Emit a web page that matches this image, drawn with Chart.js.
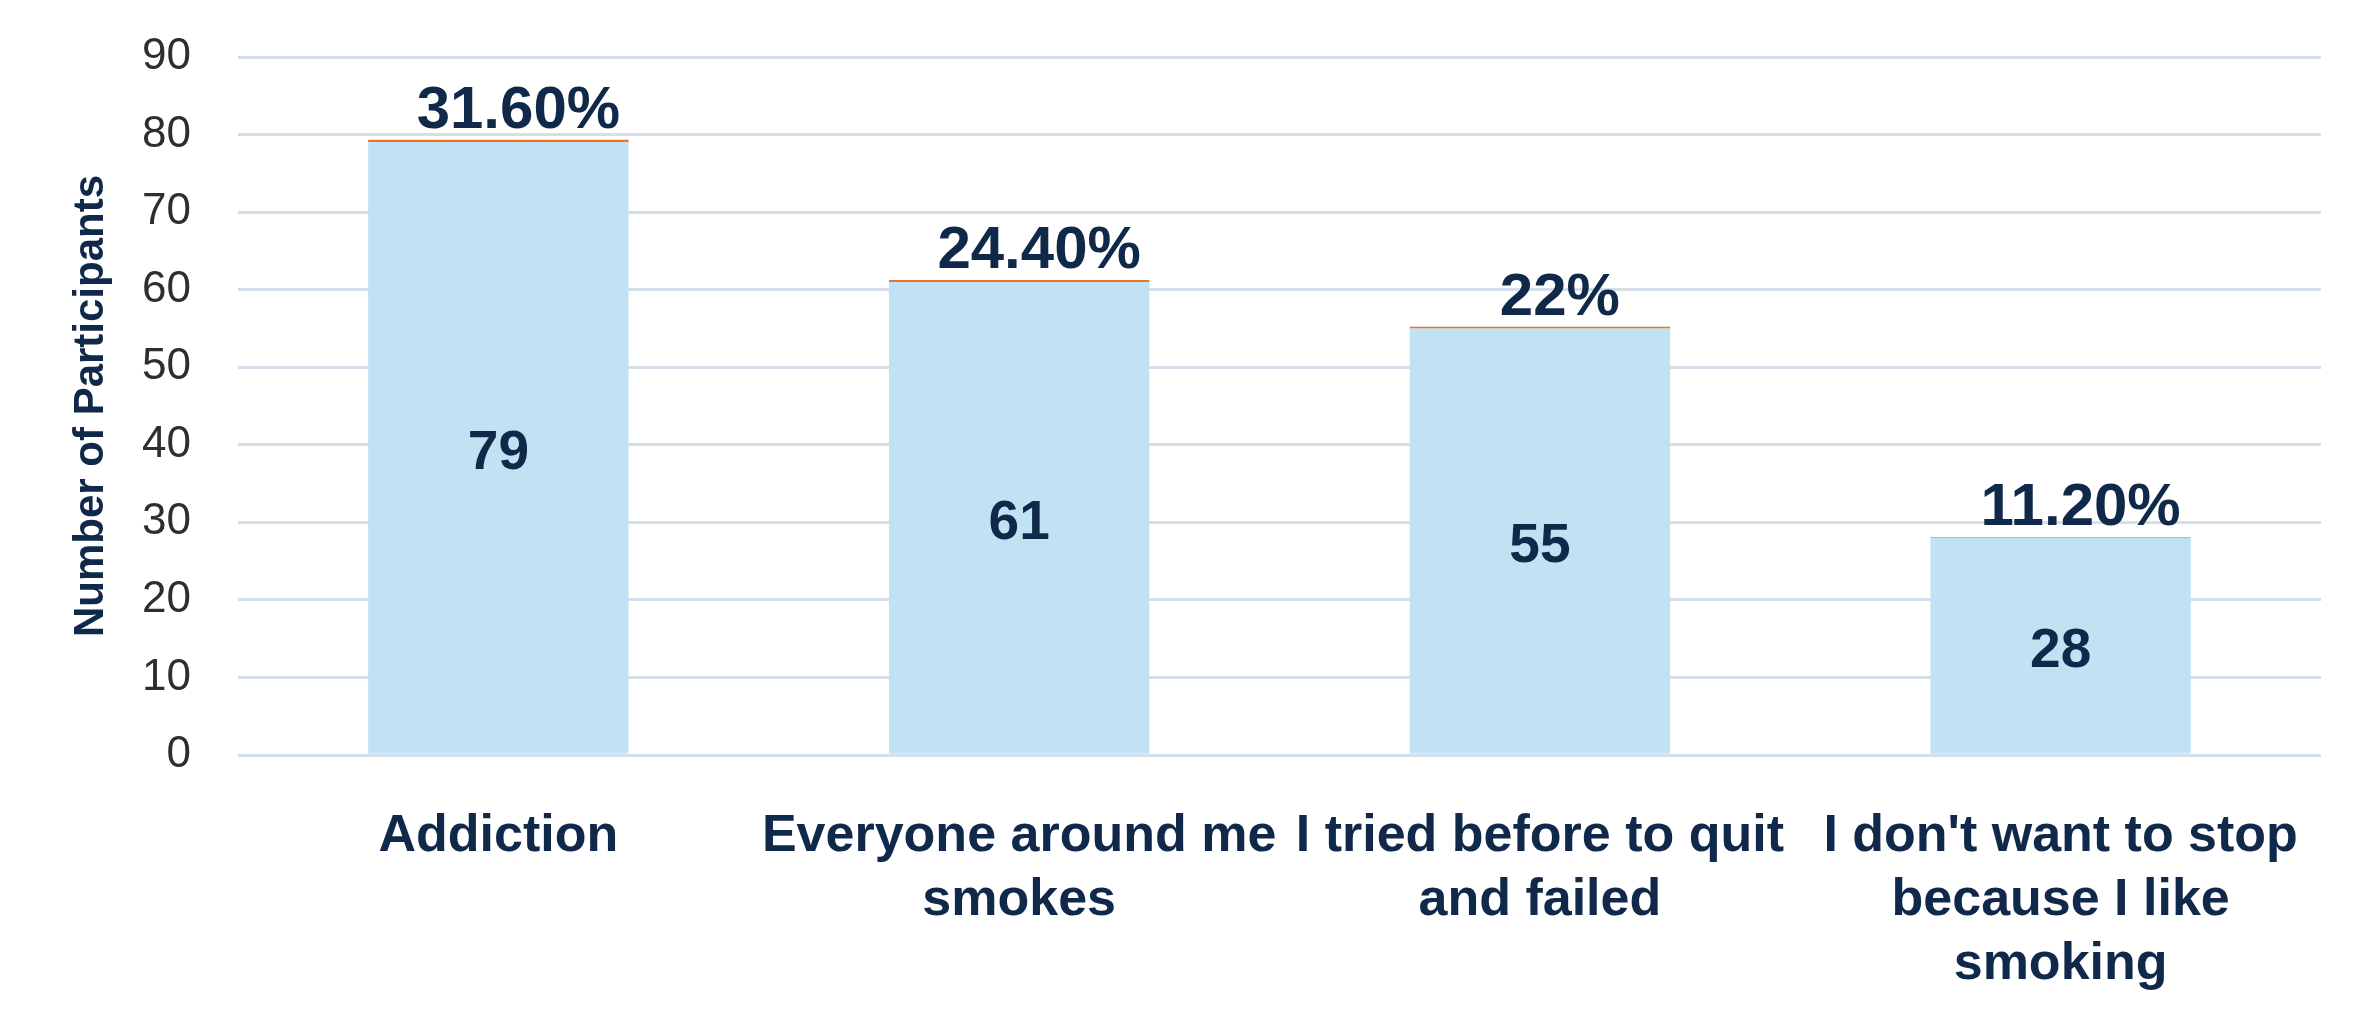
<!DOCTYPE html>
<html>
<head>
<meta charset="utf-8">
<script src="https://cdn.jsdelivr.net/npm/chart.js@4"></script>
<style>
  html, body { margin: 0; padding: 0; background: #ffffff; }
  #wrap { width: 2365px; height: 1010px; }
</style>
</head>
<body>
<div id="wrap"><canvas id="c" width="2365" height="1010"></canvas></div>
<script>
// ---- data ----
const categories = [
  ["Addiction"],
  ["Everyone around me", "smokes"],
  ["I tried before to quit", "and failed"],
  ["I don't want to stop", "because I like", "smoking"]
];
const counts = [79, 61, 55, 28];
const percents = [31.6, 24.4, 22, 11.2];
const percentLabels = ["31.60%", "24.40%", "22%", "11.20%"];
const yTicks = [0, 10, 20, 30, 40, 50, 60, 70, 80, 90];
const yTitle = "Number of Participants";

// ---- style ----
const FONT = "'Liberation Sans', Arial, sans-serif";
const NAVY = "#10284A";

const labelPlugin = {
  id: 'barLabels',
  afterDatasetsDraw(chart) {
    const ctx = chart.ctx;
    const m0 = chart.getDatasetMeta(0);
    const m1 = chart.getDatasetMeta(1);
    ctx.save();
    ctx.fillStyle = NAVY;
    ctx.textAlign = 'center';
    // counts, centred in the bars
    ctx.font = "bold 55px " + FONT;
    ctx.textBaseline = 'middle';
    m0.data.forEach((el, i) => {
      ctx.fillText(String(counts[i]), el.x, (el.y + el.base) / 2 + 6);
    });
    // percentages, above the stack
    ctx.font = "bold 60px " + FONT;
    ctx.textBaseline = 'alphabetic';
    m1.data.forEach((el, i) => {
      ctx.fillText(percentLabels[i], el.x + 20, el.y - 12);
    });
    ctx.restore();
  }
};

new Chart(document.getElementById('c'), {
  type: 'bar',
  data: {
    labels: categories,
    datasets: [
      {
        label: 'Participants',
        data: counts,
        backgroundColor: '#C0E2F3',
        borderWidth: 0,
        barPercentage: 0.5,
        categoryPercentage: 1.0
      },
      {
        label: 'Percentage',
        data: percents.map(p => p / 100),
        backgroundColor: '#E97132',
        borderWidth: 0,
        barPercentage: 0.5,
        categoryPercentage: 1.0
      }
    ]
  },
  options: {
    responsive: false,
    animation: false,
    devicePixelRatio: 1,
    layout: { padding: { top: 57, right: 44, bottom: 0, left: 0 } },
    plugins: {
      legend: { display: false },
      tooltip: { enabled: false }
    },
    scales: {
      x: {
        stacked: true,
        grid: { display: false, drawTicks: false },
        border: { display: false },
        ticks: {
          autoSkip: false,
          maxRotation: 0,
          minRotation: 0,
          padding: 50,
          color: NAVY,
          font: { family: FONT, size: 52, weight: 'bold', lineHeight: 1.23 }
        },
        afterFit(scale) { scale.height = 255; }
      },
      y: {
        stacked: true,
        min: 0,
        max: 90,
        afterBuildTicks(scale) { scale.ticks = yTicks.map(v => ({ value: v })); },
        grid: { color: '#D5DFEB', lineWidth: 3, drawTicks: false },
        border: { display: false },
        ticks: {
          padding: 47,
          color: '#2E2E2E',
          font: { family: FONT, size: 44 }
        },
        title: {
          display: true,
          text: yTitle,
          color: NAVY,
          padding: { top: 66, bottom: 0 },
          font: { family: FONT, size: 42, weight: 'bold' }
        },
        afterFit(scale) {
          scale.width = 238;
          scale.paddingTop = 0;
          scale.paddingBottom = 0;
        }
      }
    }
  },
  plugins: [labelPlugin]
});
</script>
</body>
</html>
